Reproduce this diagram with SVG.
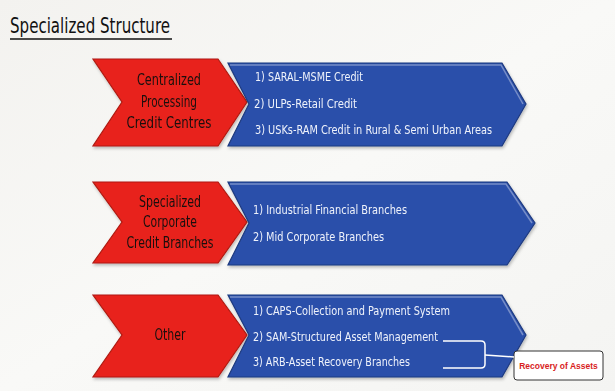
<svg xmlns="http://www.w3.org/2000/svg" width="615" height="391" viewBox="0 0 615 391">
<defs>
<linearGradient id="bg" x1="0" y1="0" x2="1" y2="1">
<stop offset="0" stop-color="#f3f2ef"/><stop offset="0.5" stop-color="#f9f9f7"/><stop offset="1" stop-color="#f4f4f2"/>
</linearGradient>
<filter id="sh" x="-5%" y="-5%" width="112%" height="115%"><feDropShadow dx="1" dy="2" stdDeviation="1.5" flood-color="#000" flood-opacity="0.25"/></filter>
</defs>
<style>
.red{fill:#e8241b;stroke:#b01a12;stroke-width:1.2}
.blue{fill:#2c50aa;stroke:#1d3a80;stroke-width:1.2}
.bev{fill:none;stroke:#ffffff;stroke-opacity:0.35;stroke-width:1.5}
.rt{font-family:"DejaVu Sans Condensed","DejaVu Sans",sans-serif;font-size:15px;fill:#1a1010;text-anchor:middle}
.bt{font-family:"DejaVu Sans Condensed","DejaVu Sans",sans-serif;font-size:13px;fill:#eef2fb}
.ttl{font-family:"DejaVu Sans Condensed","DejaVu Sans",sans-serif;font-size:22px;fill:#111}
.conn{fill:none;stroke:#ffffff;stroke-width:1.5}
</style>
<rect width="615" height="391" fill="url(#bg)"/>
<text class="ttl" x="10" y="33" textLength="160" lengthAdjust="spacingAndGlyphs">Specialized Structure</text>
<line x1="10" y1="39" x2="172" y2="39" stroke="#111" stroke-width="1.5"/>

<g id="row1-red" filter="url(#sh)">
<polygon class="red" points="93,59 218,59 247,102 218,146 93,146 122,102"/>
<text class="rt" x="169" y="85" textLength="64" lengthAdjust="spacingAndGlyphs">Centralized</text>
<text class="rt" x="169" y="107" textLength="56" lengthAdjust="spacingAndGlyphs">Processing</text>
<text class="rt" x="169" y="128" textLength="85" lengthAdjust="spacingAndGlyphs">Credit Centres</text>
</g>
<g id="row1-blue" filter="url(#sh)">
<polygon class="blue" points="228,63 502,63 526,104 502,146 228,146 249,104"/>
<polyline class="bev" points="230,65 501,65 523,104"/>
<text class="bt" x="255" y="81" textLength="108" lengthAdjust="spacingAndGlyphs">1) SARAL-MSME Credit</text>
<text class="bt" x="254" y="108" textLength="103" lengthAdjust="spacingAndGlyphs">2) ULPs-Retail Credit</text>
<text class="bt" x="255" y="134" textLength="237" lengthAdjust="spacingAndGlyphs">3) USKs-RAM Credit in Rural &amp; Semi Urban Areas</text>
</g>

<g id="row2-red" filter="url(#sh)">
<polygon class="red" points="93,182 218,182 247,222 218,263 93,263 122,222"/>
<text class="rt" x="170" y="207" textLength="62" lengthAdjust="spacingAndGlyphs">Specialized</text>
<text class="rt" x="170" y="227" textLength="54" lengthAdjust="spacingAndGlyphs">Corporate</text>
<text class="rt" x="170" y="248" textLength="87" lengthAdjust="spacingAndGlyphs">Credit Branches</text>
</g>
<g id="row2-blue" filter="url(#sh)">
<polygon class="blue" points="228,182 507,182 535,223 507,265 228,265 249,223"/>
<polyline class="bev" points="230,184 506,184 532,223"/>
<text class="bt" x="253" y="214" textLength="154" lengthAdjust="spacingAndGlyphs">1) Industrial Financial Branches</text>
<text class="bt" x="253" y="241" textLength="131" lengthAdjust="spacingAndGlyphs">2) Mid Corporate Branches</text>
</g>

<g id="row3-red" filter="url(#sh)">
<polygon class="red" points="93,295 218,295 247,335 218,377 93,377 122,335"/>
<text class="rt" x="170" y="340" textLength="31" lengthAdjust="spacingAndGlyphs">Other</text>
</g>
<g id="row3-blue" filter="url(#sh)">
<polygon class="blue" points="228,295 502,295 526,335 502,377 228,377 249,335"/>
<polyline class="bev" points="230,297 501,297 523,335"/>
<text class="bt" x="253" y="315" textLength="197" lengthAdjust="spacingAndGlyphs">1) CAPS-Collection  and Payment System</text>
<text class="bt" x="253" y="341" textLength="185" lengthAdjust="spacingAndGlyphs">2) SAM-Structured Asset Management</text>
<text class="bt" x="253" y="366" textLength="157" lengthAdjust="spacingAndGlyphs">3) ARB-Asset Recovery  Branches</text>
</g>

<g id="recovery">
<rect x="514" y="351" width="89" height="29" rx="3" fill="#ffffff" stroke="#333" stroke-width="1"/>
<text x="558.5" y="369" font-family="'Liberation Sans',Arial,sans-serif" font-size="8.5" font-weight="bold" fill="#d81e1e" text-anchor="middle">Recovery of Assets</text>
</g>

<g id="connectors">
<path class="conn" d="M443,341 L481,341 Q485,341 485,345 L485,364 Q485,368 481,368 L443,368"/>
<path class="conn" d="M485,355 L514,357"/>
</g>
</svg>
